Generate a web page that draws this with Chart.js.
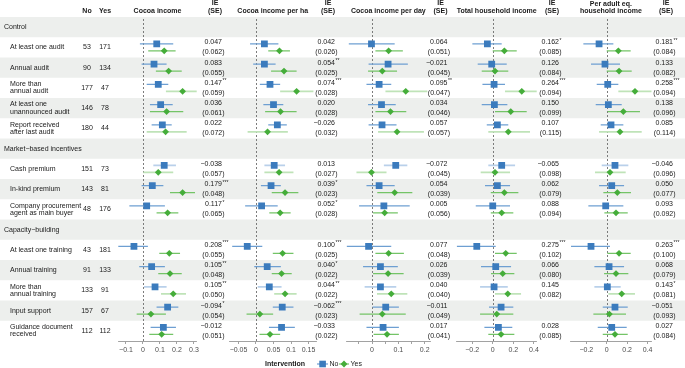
<!DOCTYPE html>
<html>
<head>
<meta charset="utf-8">
<script src="https://cdn.jsdelivr.net/npm/chart.js@4.4.1/dist/chart.umd.min.js"></script>
<style>
  html, body { margin: 0; padding: 0; background: #fff; }
  #wrap { width: 685px; height: 368px; position: relative; }
</style>
</head>
<body>
<div id="wrap"><canvas id="chart" width="685" height="368"></canvas></div>
<script>
const groups = ['Control', 'Market−based incentives', 'Capacity−building'];
const indicators = [
  'At least one audit', 'Annual audit', 'More than\nannual audit', 'At least one\nunannounced audit',
  'Report received\nafter last audit', 'Cash premium', 'In-kind premium',
  'Company procurement\nagent as main buyer', 'At least one training', 'Annual training',
  'More than\nannual training', 'Input support', 'Guidance document\nreceived'
];
const indicatorGroup = [0, 0, 0, 0, 0, 1, 1, 1, 2, 2, 2, 2, 2];
const nNo  = [53, 90, 177, 146, 180, 151, 143, 48, 43, 91, 133, 157, 112];
const nYes = [171, 134, 47, 78, 44, 73, 81, 176, 181, 133, 91, 67, 112];
const outcomes = ['Cocoa income', 'Cocoa income per ha', 'Cocoa income per day',
  'Total household income', 'Per adult eq.\nhousehold income'];

// [estimate, lower, upper] per indicator
const cocoaIncomeNo = [[0.081,-0.018,0.178],[0.065,-0.008,0.139],[0.090,0.022,0.149],[0.104,0.041,0.175],[0.114,0.051,0.169],[0.125,0.061,0.194],[0.055,-0.008,0.120],[0.022,-0.080,0.129],[-0.053,-0.147,0.029],[0.051,-0.022,0.129],[0.071,0.006,0.139],[0.145,0.080,0.208],[0.120,0.045,0.194]];
const cocoaIncomeYes = [[0.125,0.031,0.192],[0.151,0.076,0.228],[0.233,0.135,0.331],[0.139,0.041,0.237],[0.133,0.022,0.257],[0.090,0.002,0.178],[0.233,0.159,0.306],[0.145,0.080,0.208],[0.155,0.096,0.218],[0.159,0.090,0.228],[0.178,0.106,0.253],[0.047,-0.037,0.135],[0.110,0.037,0.178]];
const perHaNo = [[0.024,-0.017,0.064],[0.024,-0.008,0.056],[0.040,0.011,0.069],[0.050,0.021,0.078],[0.061,0.035,0.088],[0.052,0.024,0.083],[0.043,0.014,0.071],[0.016,-0.031,0.062],[-0.025,-0.068,0.018],[0.032,-0.005,0.071],[0.038,0.005,0.073],[0.075,0.048,0.107],[0.073,0.037,0.111]];
const perHaYes = [[0.067,0.035,0.097],[0.080,0.043,0.116],[0.116,0.069,0.164],[0.070,0.026,0.116],[0.033,-0.024,0.091],[0.066,0.024,0.107],[0.083,0.045,0.121],[0.069,0.038,0.099],[0.076,0.048,0.107],[0.073,0.045,0.102],[0.083,0.052,0.116],[0.011,-0.027,0.049],[0.040,0.010,0.069]];
const perDayNo = [[-0.002,-0.088,0.086],[0.061,-0.013,0.136],[0.027,-0.021,0.073],[0.036,-0.015,0.090],[0.038,-0.013,0.093],[0.090,0.045,0.134],[0.027,-0.021,0.086],[0.045,-0.049,0.143],[-0.013,-0.097,0.073],[0.032,-0.034,0.098],[0.032,-0.028,0.092],[0.052,0.002,0.102],[0.042,-0.021,0.102]];
const perDayYes = [[0.063,0.013,0.117],[0.039,-0.015,0.095],[0.128,0.051,0.210],[0.070,0.013,0.130],[0.095,0.023,0.197],[-0.002,-0.059,0.055],[0.086,0.020,0.153],[0.048,0.004,0.098],[0.063,0.013,0.121],[0.061,0.004,0.120],[0.073,0.019,0.134],[0.039,-0.047,0.128],[0.057,0.006,0.102]];
const householdNo = [[-0.052,-0.198,0.087],[-0.010,-0.146,0.136],[0.013,-0.100,0.119],[0.016,-0.107,0.142],[0.045,-0.058,0.151],[0.087,-0.043,0.217],[0.045,-0.075,0.168],[0.000,-0.165,0.168],[-0.155,-0.350,0.029],[0.029,-0.114,0.178],[0.013,-0.123,0.146],[0.081,-0.036,0.200],[0.055,-0.081,0.190]];
const householdYes = [[0.113,0.000,0.233],[0.022,-0.107,0.151],[0.282,0.119,0.443],[0.175,0.022,0.330],[0.151,-0.043,0.362],[0.022,-0.117,0.168],[0.113,-0.019,0.249],[0.087,-0.019,0.200],[0.126,0.022,0.233],[0.097,-0.017,0.210],[0.146,0.022,0.275],[0.039,-0.123,0.200],[0.081,-0.043,0.210]];
const perAdultNo = [[-0.075,-0.229,0.065],[-0.017,-0.154,0.130],[0.010,-0.098,0.114],[0.016,-0.108,0.147],[0.042,-0.059,0.163],[0.081,-0.049,0.212],[0.049,-0.075,0.170],[-0.010,-0.180,0.163],[-0.154,-0.350,0.032],[0.023,-0.121,0.170],[0.006,-0.121,0.137],[0.081,-0.039,0.206],[0.049,-0.088,0.196]];
const perAdultYes = [[0.114,0.000,0.235],[0.121,0.000,0.245],[0.277,0.114,0.441],[0.163,0.010,0.326],[0.130,-0.075,0.343],[0.032,-0.115,0.186],[0.104,-0.033,0.238],[0.091,-0.023,0.206],[0.121,0.006,0.235],[0.091,-0.026,0.212],[0.147,0.016,0.277],[0.026,-0.131,0.189],[0.081,-0.039,0.206]];

// impact estimates, standard errors and significance stars
const cocoaIncomeIE = [0.047, 0.083, 0.147, 0.036, 0.022, -0.038, 0.179, 0.117, 0.208, 0.105, 0.105, -0.094, -0.012];
const cocoaIncomeSE = [0.062, 0.055, 0.059, 0.061, 0.072, 0.057, 0.048, 0.065, 0.055, 0.048, 0.050, 0.054, 0.051];
const cocoaIncomeStars = ['', '', '**', '', '', '', '***', '*', '***', '**', '**', '*', ''];
const perHaIE = [0.042, 0.054, 0.074, 0.020, -0.026, 0.013, 0.039, 0.052, 0.100, 0.040, 0.044, -0.062, -0.033];
const perHaSE = [0.026, 0.025, 0.028, 0.028, 0.032, 0.027, 0.023, 0.028, 0.025, 0.022, 0.022, 0.023, 0.022];
const perHaStars = ['', '**', '***', '', '', '', '*', '*', '***', '*', '**', '***', ''];
const perDayIE = [0.064, -0.021, 0.095, 0.034, 0.057, -0.072, 0.054, 0.005, 0.077, 0.026, 0.040, -0.011, 0.017];
const perDaySE = [0.051, 0.045, 0.047, 0.046, 0.057, 0.045, 0.039, 0.056, 0.048, 0.039, 0.040, 0.049, 0.041];
const perDayStars = ['', '', '**', '', '', '', '', '', '', '', '', '', ''];
const householdIE = [0.162, 0.126, 0.264, 0.150, 0.107, -0.065, 0.062, 0.088, 0.275, 0.066, 0.145, null, 0.028];
const householdSE = [0.085, 0.084, 0.094, 0.099, 0.115, 0.098, 0.079, 0.094, 0.102, 0.080, 0.082, null, 0.085];
const householdStars = ['*', '', '***', '', '', '', '', '', '***', '', '', '', ''];
const perAdultIE = [0.181, 0.133, 0.258, 0.138, 0.085, -0.046, 0.050, 0.093, 0.263, 0.068, 0.143, -0.051, 0.027];
const perAdultSE = [0.084, 0.082, 0.094, 0.096, 0.114, 0.096, 0.077, 0.092, 0.100, 0.079, 0.081, 0.093, 0.084];
const perAdultStars = ['**', '', '***', '', '', '', '', '', '***', '', '*', '', ''];

const tickValues = [[-0.1, 0, 0.1, 0.2, 0.3], [-0.05, 0, 0.05, 0.1, 0.15], [-0.05, 0, 0.05, 0.1, 0.15, 0.2], [-0.2, 0, 0.2, 0.4], [-0.2, 0, 0.2, 0.4]];
const tickLabels = [['−0.1', '0', '0.1', '0.2', '0.3'], ['−0.05', '0', '0.05', '0.1', '0.15'], ['', '0', '', '0.1', '', '0.2'], ['−0.2', '0', '0.2', '0.4'], ['−0.2', '0', '0.2', '0.4']];

// ---- layout / style (not data) ----
const FONT = '"Liberation Sans", Arial, sans-serif';
const BLUE = '#3b7bbd', BLUE_LINE = '#6e9fd2', GREEN = '#45ad3a', GREEN_LINE = '#74c467';
const BLUE_PALE = '#b9d0ea', GREEN_PALE = '#bfe3b8';
const BAND = '#edefed';
// indicator rows whose interval lines are drawn faded in the original figure
const paleNo = [5, 10];
const paleYes = [2, 4, 5, 10];
const panelBox = [
  {left: 118.3, right: 196.7, min: -0.145, max: 0.316, ieRight: 222},
  {left: 229.5, right: 316.0, min: -0.0757, max: 0.1714, ieRight: 335},
  {left: 346.7, right: 430.0, min: -0.096, max: 0.220, ieRight: 447.5},
  {left: 456.7, right: 536.7, min: -0.35, max: 0.427, ieRight: 559},
  {left: 570.0, right: 651.7, min: -0.36, max: 0.441, ieRight: 673}
];
const panels = [
  {no: cocoaIncomeNo, yes: cocoaIncomeYes, ie: cocoaIncomeIE, se: cocoaIncomeSE, stars: cocoaIncomeStars},
  {no: perHaNo, yes: perHaYes, ie: perHaIE, se: perHaSE, stars: perHaStars},
  {no: perDayNo, yes: perDayYes, ie: perDayIE, se: perDaySE, stars: perDayStars},
  {no: householdNo, yes: householdYes, ie: householdIE, se: householdSE, stars: householdStars},
  {no: perAdultNo, yes: perAdultYes, ie: perAdultIE, se: perAdultSE, stars: perAdultStars}
];

// row index of each group header and indicator (groups take a row of their own)
const groupRow = [];
const indicatorRow = [];
let r = 0;
indicators.forEach((lab, i) => {
  if (i === 0 || indicatorGroup[i] !== indicatorGroup[i - 1]) groupRow.push(r++);
  indicatorRow.push(r++);
});
const rowCount = r;
const OFFSET = 0.17;

const series = [
  {key: 'no', col: BLUE, line: BLUE_LINE, pale: BLUE_PALE, paleRows: paleNo, off: -OFFSET, shape: 'rect', rad: 4.8},
  {key: 'yes', col: GREEN, line: GREEN_LINE, pale: GREEN_PALE, paleRows: paleYes, off: OFFSET, shape: 'rectRot', rad: 3.4}
];

const datasets = [];
panels.forEach((p, k) => {
  series.forEach(s => {
    const ci = [];
    p[s.key].forEach((v, i) => {
      ci.push({x: v[1], y: indicatorRow[i] + s.off}, {x: v[2], y: indicatorRow[i] + s.off}, {x: null, y: null});
    });
    const isPale = c => s.paleRows.includes(Math.floor(c.p0DataIndex / 3));
    datasets.push({
      type: 'scatter', data: ci, xAxisID: 'x' + k, yAxisID: 'y',
      showLine: true, spanGaps: false, borderColor: s.line, borderWidth: 1.2,
      segment: {
        borderColor: c => isPale(c) ? s.pale : s.line,
        borderWidth: c => isPale(c) ? 1.8 : 1.2
      },
      pointRadius: 0, pointHoverRadius: 0, order: 2
    });
    datasets.push({
      type: 'scatter', xAxisID: 'x' + k, yAxisID: 'y',
      data: p[s.key].map((v, i) => ({x: v[0], y: indicatorRow[i] + s.off})),
      pointStyle: s.shape, pointRadius: s.rad, backgroundColor: s.col, borderColor: s.col,
      borderWidth: 0, order: s.key === 'no' ? 1 : 0
    });
  });
});

const scales = {
  y: {type: 'linear', display: false, min: -0.5, max: rowCount - 0.5, reverse: true}
};
panelBox.forEach((b, k) => {
  scales['x' + k] = {
    type: 'linear', position: 'bottom', stack: 'panels', min: b.min, max: b.max,
    afterBuildTicks: (s) => { s.ticks = tickValues[k].map(v => ({value: v})); },
    ticks: {
      autoSkip: false, maxRotation: 0, padding: 1.5, color: '#4d4d4d',
      font: {family: FONT, size: 7},
      callback: (v, i) => tickLabels[k][i]
    },
    grid: {drawOnChartArea: false, tickLength: 3, tickColor: '#8a8a8a', lineWidth: 0.8},
    border: {color: '#8a8a8a', width: 0.8}
  };
});

const fmt = v => (v < 0 ? '−' : '') + Math.abs(v).toFixed(3);

// places each x axis over its own column of the table
const panelPlacement = {
  id: 'panelPlacement',
  afterLayout(chart) {
    panelBox.forEach((b, k) => {
      const s = chart.scales['x' + k];
      s.left = b.left; s.right = b.right; s.width = b.right - b.left;
      s.configure();
    });
  }
};

const table = {
  id: 'table',
  beforeDraw(chart) {
    const {ctx, chartArea} = chart;
    const y = chart.scales.y;
    ctx.save();
    ctx.fillStyle = BAND;
    for (let i = 0; i < rowCount; i += 2) {
      const t = y.getPixelForValue(i - 0.5), bt = y.getPixelForValue(i + 0.5);
      ctx.fillRect(0, t, chart.width, bt - t);
    }
    ctx.strokeStyle = '#6e6e6e'; ctx.lineWidth = 0.9; ctx.setLineDash([2, 2]);
    panelBox.forEach((b, k) => {
      const x = Math.round(chart.scales['x' + k].getPixelForValue(0)) + 0.5;
      ctx.beginPath(); ctx.moveTo(x, chartArea.top + 2); ctx.lineTo(x, chartArea.bottom); ctx.stroke();
    });
    ctx.restore();
  },
  afterDraw(chart) {
    const {ctx} = chart;
    const y = chart.scales.y;
    ctx.save();
    ctx.textBaseline = 'middle';
    ctx.fillStyle = '#1a1a1a';
    // header
    ctx.font = 'bold 7px ' + FONT;
    ctx.textAlign = 'center';
    ctx.fillText('No', 87, 11);
    ctx.fillText('Yes', 105, 11);
    panelBox.forEach((b, k) => {
      const cx = (b.left + b.right) / 2;
      const lines = outcomes[k].split('\n');
      if (lines.length === 1) ctx.fillText(lines[0], cx, 11);
      else { ctx.fillText(lines[0], cx, 4); ctx.fillText(lines[1], cx, 11.5); }
      ctx.fillText('IE', b.ieRight - 7, 3.5);
      ctx.fillText('(SE)', b.ieRight - 7, 11);
    });
    // group rows
    ctx.font = '7px ' + FONT;
    ctx.textAlign = 'left';
    groups.forEach((g, i) => ctx.fillText(g, 4, y.getPixelForValue(groupRow[i])));
    // indicator rows
    indicators.forEach((lab, i) => {
      const cy = y.getPixelForValue(indicatorRow[i]);
      const lines = lab.split('\n');
      ctx.font = '7px ' + FONT;
      ctx.textAlign = 'left';
      if (lines.length === 1) ctx.fillText(lab, 10, cy);
      else { ctx.fillText(lines[0], 10, cy - 3.6); ctx.fillText(lines[1], 10, cy + 3.6); }
      ctx.textAlign = 'center';
      ctx.fillText(String(nNo[i]), 87, cy);
      ctx.fillText(String(nYes[i]), 105, cy);
      panels.forEach((p, k) => {
        if (p.ie[i] === null) return;
        const rx = panelBox[k].ieRight;
        ctx.font = '7px ' + FONT;
        ctx.textAlign = 'right';
        ctx.fillText(fmt(p.ie[i]), rx, cy - 5);
        ctx.fillText('(' + p.se[i].toFixed(3) + ')', rx + 2.5, cy + 5);
        if (p.stars[i]) {
          ctx.font = '5px ' + FONT;
          ctx.textAlign = 'left';
          ctx.fillText(p.stars[i], rx + 0.5, cy - 7);
        }
      });
    });
    // legend
    const ly = 364;
    ctx.font = 'bold 7px ' + FONT;
    ctx.textAlign = 'left';
    ctx.fillText('Intervention', 265, ly);
    ctx.font = '7px ' + FONT;
    ctx.strokeStyle = BLUE_LINE; ctx.lineWidth = 1.2;
    ctx.beginPath(); ctx.moveTo(317, ly); ctx.lineTo(328, ly); ctx.stroke();
    ctx.fillStyle = BLUE; ctx.fillRect(319.3, ly - 3.3, 6.6, 6.6);
    ctx.strokeStyle = GREEN_LINE;
    ctx.beginPath(); ctx.moveTo(339, ly); ctx.lineTo(349, ly); ctx.stroke();
    ctx.fillStyle = GREEN;
    ctx.beginPath(); ctx.moveTo(344, ly - 3.4); ctx.lineTo(347.4, ly); ctx.lineTo(344, ly + 3.4); ctx.lineTo(340.6, ly); ctx.closePath(); ctx.fill();
    ctx.fillStyle = '#1a1a1a';
    ctx.fillText('No', 329.5, ly);
    ctx.fillText('Yes', 350.5, ly);
    ctx.restore();
  }
};

Chart.defaults.font.family = FONT;
new Chart(document.getElementById('chart'), {
  type: 'scatter',
  data: {datasets},
  options: {
    responsive: false,
    animation: false,
    devicePixelRatio: 1,
    events: [],
    layout: {padding: {top: 17, bottom: 12.6, left: 0, right: 0}},
    plugins: {legend: {display: false}, tooltip: {enabled: false}},
    scales
  },
  plugins: [panelPlacement, table]
});
</script>
</body>
</html>
